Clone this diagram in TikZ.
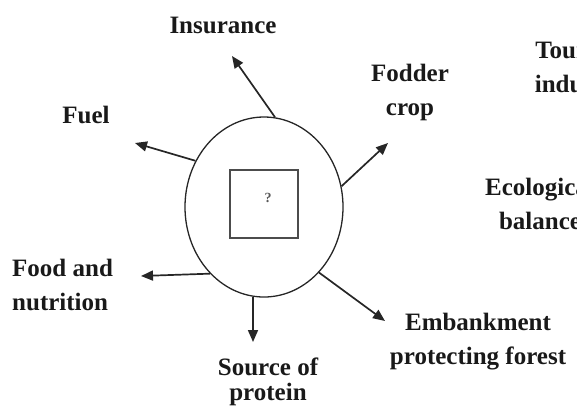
\documentclass[tikz,border=0pt]{standalone}
\usepackage{fontspec}
\setmainfont{Liberation Serif}
\usetikzlibrary{shapes.geometric,arrows.meta}
\begin{document}
\begin{tikzpicture}[x=1pt,y=-1pt,
  lbl/.style={font=\fontsize{25}{34}\selectfont\bfseries, inner sep=0pt, align=center, text=black!90},
  conn/.style={line width=1.7pt, draw=black!85, -{Triangle[length=12pt,width=10pt]}},
  oval/.style={ellipse, draw=black!85, line width=1.3pt, minimum width=158pt, minimum height=180pt, inner sep=0pt},
  sq/.style={rectangle, draw=black!70, line width=1.6pt, minimum width=68pt, minimum height=68pt, inner sep=0pt}
]
\useasboundingbox (0,0) rectangle (577,408);
\node[oval] (e) at (264,207) {};
\node[sq] (q) at (264,204) {};
\node[font=\fontsize{14}{16}\selectfont\bfseries, text=black!65, inner sep=0pt] (qm) at (268,198) {?};

\node[lbl] (ins) at (223,25) {Insurance};
\node[lbl] (fod) at (410,92) {Fodder\\crop};
\node[lbl] (fuel) at (86,115) {Fuel};
\node[lbl, align=left, anchor=west] (food) at (12,285) {Food and\\nutrition};
\node[lbl, font=\fontsize{25}{25}\selectfont\bfseries] (src) at (268,382) {Source of\\protein};
\node[lbl] (emb) at (478,342) {Embankment\\protecting forest};
\node[lbl] (tour) at (580,70) {Tourism\\industry};
\node[lbl] (eco) at (540,204) {Ecological\\balance};

\coordinate (tIns) at (232,56);
\coordinate (tFuel) at (135,143);
\coordinate (tFod) at (388,143);
\coordinate (tFood) at (141,276);
\coordinate (tSrc) at (253,342);
\coordinate (tEmb) at (385,321);

\draw[conn] (e.83) -- (tIns);
\draw[conn] (e.146) -- (tFuel);
\draw[conn] (e.15) -- (tFod);
\draw[conn] (e.231) -- (tFood);
\draw[conn] (e.263) -- (tSrc);
\draw[conn] (e.310) -- (tEmb);
\end{tikzpicture}
\end{document}
